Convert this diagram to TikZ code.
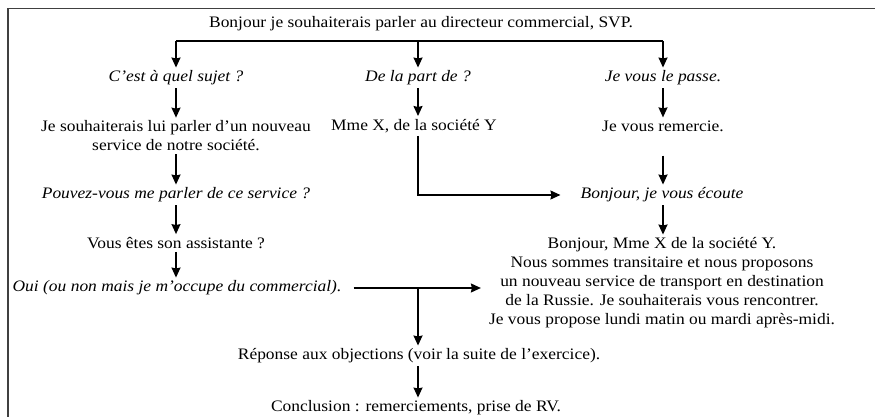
\documentclass[tikz,border=0pt]{standalone}
\usepackage{fontspec}
\setmainfont{Liberation Serif}[FakeStretch=1.09]
\usetikzlibrary{arrows.meta}
\begin{document}
\begin{tikzpicture}[x=1pt,y=-1pt,
  txt/.style={font=\fontsize{16}{19}\selectfont, inner xsep=0pt, inner ysep=3pt, align=center},
  itx/.style={txt, font=\fontsize{16}{19}\selectfont\itshape},
  arr/.style={line width=1.4pt, -{Stealth[length=10pt,width=9pt,inset=1pt]}},
  ln/.style={line width=1.4pt},
  frame/.style={line width=1.5pt, draw=black!75}]
\useasboundingbox (0,0) rectangle (875,417);
\draw[frame] (8,417) -- (8,8.5) -- (875,8.5);

\coordinate (colL) at (176,0);
\coordinate (colM) at (418,0);
\coordinate (colR) at (663,0);

\node[txt] (top) at (421,24) {Bonjour je souhaiterais parler au directeur commercial, SVP.};
\node[itx] (q1) at (176,78) {C’est à quel sujet ?};
\node[itx] (q2) at (418,78) {De la part de ?};
\node[itx] (q3) at (663,78) {Je vous le passe.};
\node[txt] (a1) at (176,136) {Je souhaiterais lui parler d’un nouveau\\service de notre société.};
\node[txt] (a2) at (414,126) {Mme X, de la société Y};
\node[txt] (a3) at (663,126) {Je vous remercie.};
\node[itx] (p1) at (176,195) {Pouvez-vous me parler de ce service ?};
\node[itx] (b3) at (662,195) {Bonjour, je vous écoute};
\node[txt] (v1) at (176,243) {Vous êtes son assistante ?};
\node[itx] (oui) at (177,288) {Oui (ou non mais je m’occupe du commercial).};
\node[txt] (blk) at (662,283) {Bonjour, Mme X de la société Y.\\Nous sommes transitaire et nous proposons\\un nouveau service de transport en destination\\de la Russie. Je souhaiterais vous rencontrer.\\Je vous propose lundi matin ou mardi après-midi.};
\node[txt] (rep) at (419,356) {Réponse aux objections (voir la suite de l’exercice).};
\node[txt] (conc) at (416,408) {Conclusion : remerciements, prise de RV.};

\coordinate (barL) at (176,41);
\coordinate (barR) at (663,41);
\draw[ln] (barL) -- (barR);
\draw[arr] (barL) -- (colL |- q1.north);
\draw[arr] (colM |- barL) -- (colM |- q2.north);
\draw[arr] (barR) -- (colR |- q3.north);
\draw[arr] (colL |- q1.south) -- (colL |- a1.north);
\draw[arr] (colM |- q2.south) -- (colM |- a2.north);
\draw[arr] (colR |- q3.south) -- (colR |- a3.north);
\draw[arr] (colL |- a1.south) -- (colL |- p1.north);
\draw[arr] (colL |- p1.south) -- (colL |- v1.north);
\draw[arr] (colL |- v1.south) -- (colL |- oui.north);
\draw[arr] ([yshift=-21pt]colR |- a3.south) -- (colR |- b3.north);
\draw[arr] (colR |- b3.south) -- (colR |- blk.north);
\draw[arr] (colM |- a2.south) |- ([xshift=-20pt]b3.west);
\draw[arr] ([xshift=12pt]oui.east) -- ([xshift=-8pt]oui.east -| blk.west);
\draw[arr] (colM |- oui.east) -- (colM |- rep.north);
\draw[arr] (colM |- rep.south) -- (colM |- conc.north);
\end{tikzpicture}
\end{document}
